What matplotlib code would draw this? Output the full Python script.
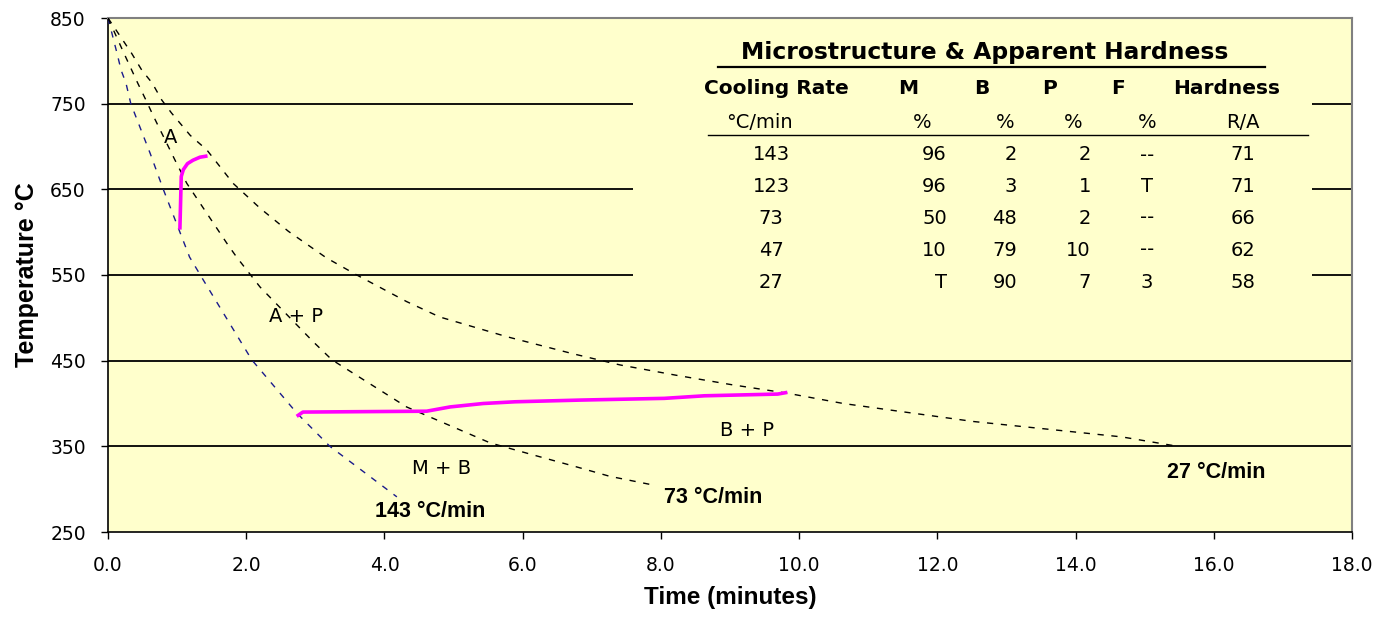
import matplotlib
matplotlib.use('Agg')
import matplotlib.pyplot as plt
from matplotlib.patches import Rectangle
from matplotlib.lines import Line2D

# ---------------- data ----------------
t143 = [0.0, 0.13, 0.19, 0.26, 0.33, 0.61, 0.80, 1.18, 1.38, 2.08, 2.73, 3.21, 4.18]
T143 = [850, 809, 789, 774, 750, 692, 650, 571, 544, 451, 389, 350, 291]

t73 = [0.0, 0.23, 0.43, 0.55, 0.66, 0.97, 1.14, 1.43, 1.72, 1.86, 2.20, 2.97, 3.24, 4.32, 5.53,
       6.15, 6.78, 7.26, 7.94]
T73 = [850, 809, 774, 754, 735, 684, 657, 622, 587, 571, 536, 472, 451, 396, 354,
       340, 326, 315, 304]

t27 = [0.0, 0.34, 0.49, 0.64, 0.78, 0.92, 1.19, 1.43, 1.81, 2.20, 2.61, 3.16, 3.60, 4.32, 4.80,
       5.77, 6.73, 7.41, 8.22, 9.02, 9.83, 10.64, 11.44, 12.52, 13.60, 14.67, 15.48]
T27 = [850, 809, 789, 774, 754, 739, 713, 696, 657, 628, 601, 570, 550, 519, 501,
       478, 458, 445, 433, 422, 412, 400, 391, 379, 370, 361, 350]

# transformation boundaries (magenta)
t_start = [1.04, 1.06, 1.09, 1.15, 1.23, 1.33, 1.44]
T_start = [603, 665, 673, 680, 684, 687.5, 689]
t_bs = [2.73, 2.82, 4.61, 4.95, 5.43, 5.89, 6.84, 8.05, 8.63, 9.69, 9.83]
T_bs = [385, 390, 391, 396, 400, 402, 404, 406, 409, 411, 413]

grid_levels = [750, 650, 550, 450, 350]
xticks = [0, 2, 4, 6, 8, 10, 12, 14, 16, 18]
xticklabels = ['0.0', '2.0', '4.0', '6.0', '8.0', '10.0', '12.0', '14.0', '16.0', '18.0']
yticks = [250, 350, 450, 550, 650, 750, 850]

curve_labels = ['143 °C/min', '73 °C/min', '27 °C/min']
curve_label_pos = [(3.86, 274), (8.05, 290), (15.32, 319)]
region_labels = ['A', 'A + P', 'M + B', 'B + P']
region_pos = [(0.90, 710), (2.72, 501), (4.83, 324), (9.24, 369)]

table_title = 'Microstructure & Apparent Hardness'
table_headers = ['Cooling Rate', 'M', 'B', 'P', 'F', 'Hardness']
table_units = ['°C/min', '%', '%', '%', '%', 'R/A']
rates = ['143', '123', '73', '47', '27']
col_M = ['96', '96', '50', '10', 'T']
col_B = ['2', '3', '48', '79', '90']
col_P = ['2', '1', '2', '10', '7']
col_F = ['--', 'T', '--', '--', '3']
col_H = ['71', '71', '66', '62', '58']

# ---------------- figure ----------------
W, H = 1385, 620
fig = plt.figure(figsize=(W / 100, H / 100), dpi=100)
fig.patch.set_facecolor('white')
ax = fig.add_axes([108 / W, 88 / H, 1244 / W, 514 / H])
ax.set_facecolor('#FFFFCC')
ax.set_xlim(0, 18)
ax.set_ylim(250, 850)

TICKFONT = 'DejaVu Sans'
BOLDFONT = 'Liberation Sans'

ax.set_xticks(xticks)
ax.set_xticklabels(xticklabels, fontsize=13.5, family=TICKFONT)
ax.set_yticks(yticks)
ax.set_yticklabels([str(v) for v in yticks], fontsize=13.5, family=TICKFONT)
ax.tick_params(axis='both', direction='out', length=5, width=1, color='black')
ax.tick_params(axis='x', pad=12)
ax.tick_params(axis='y', pad=11)

for s in ['left', 'bottom']:
    ax.spines[s].set_color('black')
    ax.spines[s].set_linewidth(1.2)
for s in ['top', 'right']:
    ax.spines[s].set_color('#808080')
    ax.spines[s].set_linewidth(1.5)

for y in grid_levels:
    ax.axhline(y, color='black', lw=1.3, zorder=1)

# table background box covering gridlines
ax.add_patch(Rectangle((0.422, 0.45), 0.546, 0.525, transform=ax.transAxes,
                       facecolor='#FFFFCC', edgecolor='none', zorder=1.5))

dash = (0, (4.5, 5.5))
ax.plot(t143, T143, color='#1a1a8c', lw=1.0, linestyle=dash, zorder=3)
ax.plot(t73, T73, color='black', lw=1.0, linestyle=dash, zorder=3)
ax.plot(t27, T27, color='black', lw=1.0, linestyle=dash, zorder=3)

ax.plot(t_start, T_start, color='#FF00FF', lw=2.6, zorder=4, solid_capstyle='butt')
ax.plot(t_bs, T_bs, color='#FF00FF', lw=2.6, zorder=4, solid_capstyle='butt')

for lab, (x, y) in zip(curve_labels, curve_label_pos):
    ax.text(x, y, lab, fontsize=15.5, fontweight='bold', family=BOLDFONT,
            ha='left', va='center', zorder=5)
for lab, (x, y) in zip(region_labels, region_pos):
    ax.text(x, y, lab, fontsize=14, family=TICKFONT, ha='center', va='center', zorder=5)

ax.set_xlabel('Time (minutes)', fontsize=17.5, fontweight='bold', family=BOLDFONT, labelpad=8)
ax.set_ylabel('Temperature °C', fontsize=18, fontweight='bold', family=BOLDFONT, labelpad=8)


# ---------------- table text (figure pixel positions) ----------------
def ft(x, y, s, **kw):
    fig.text(x / W, 1 - y / H, s, va='center', **kw)

ft(985, 53, table_title, ha='center', fontsize=16.8, fontweight='bold', family=TICKFONT)
fig.add_artist(Line2D([718 / W, 1265 / W], [1 - 67 / H, 1 - 67 / H], color='black', lw=1.6))

hdr_x = [776, 908, 982, 1050, 1118, 1227]
for s, x in zip(table_headers, hdr_x):
    ft(x, 88, s, ha='center', fontsize=14.5, fontweight='bold', family=TICKFONT)
unit_x = [759, 922, 1005, 1073, 1147, 1243]
for s, x in zip(table_units, unit_x):
    ft(x, 123, s, ha='center', fontsize=14, family=TICKFONT)
fig.add_artist(Line2D([708 / W, 1308 / W], [1 - 135 / H, 1 - 135 / H], color='black', lw=1.0))

row_y = [155, 187, 218, 250, 282]
for i, y in enumerate(row_y):
    ft(771, y, rates[i], ha='center', fontsize=14, family=TICKFONT)
    ft(947, y, col_M[i], ha='right', fontsize=14, family=TICKFONT)
    ft(1017, y, col_B[i], ha='right', fontsize=14, family=TICKFONT)
    ft(1091, y, col_P[i], ha='right', fontsize=14, family=TICKFONT)
    ft(1147, y, col_F[i], ha='center', fontsize=14, family=TICKFONT)
    ft(1243, y, col_H[i], ha='center', fontsize=14, family=TICKFONT)

fig.savefig('out.png', dpi=100, facecolor='white')
